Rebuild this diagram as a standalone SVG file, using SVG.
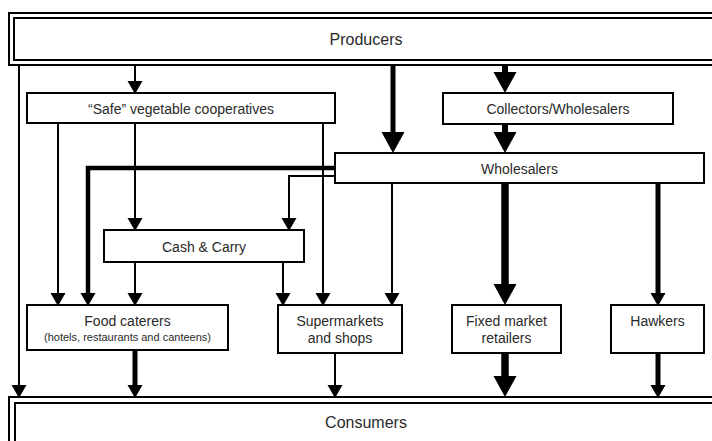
<svg xmlns="http://www.w3.org/2000/svg" width="712" height="441" viewBox="0 0 712 441">
<style>
  .box { fill: #fff; stroke: #000; stroke-width: 2; }
  .frame { fill: none; stroke: #000; stroke-width: 2; }
  .t { font-family: "Liberation Sans", Arial, sans-serif; font-size: 14px; fill: #2a2a2a; text-anchor: middle; }
  .big { font-size: 16px; }
  .small { font-size: 11px; }
  .c { fill: none; stroke: #000; stroke-linejoin: miter; }
  .w2 { stroke-width: 2; }
  .w4 { stroke-width: 4.5; }
  .w5 { stroke-width: 5; }
  .w6 { stroke-width: 6; }
  .w7 { stroke-width: 7.5; }
</style>
<defs>
  <marker id="hs" markerUnits="userSpaceOnUse" markerWidth="15" markerHeight="16" refX="0" refY="7.5" orient="auto" overflow="visible">
    <path d="M0,0 L13,7.5 L0,15 Z" fill="#000"/>
  </marker>
  <marker id="hl" markerUnits="userSpaceOnUse" markerWidth="22" markerHeight="24" refX="0" refY="11.5" orient="auto" overflow="visible">
    <path d="M0,0 L21,11.5 L0,23 Z" fill="#000"/>
  </marker>
</defs>

<g id="connectors">
  <path class="c w2" d="M19,65 V385" marker-end="url(#hs)"/>
  <path class="c w2" d="M135,65 V81" marker-end="url(#hs)"/>
  <path class="c w5" d="M393,65 V132" marker-end="url(#hl)"/>
  <path class="c w6" d="M505,65 V72" marker-end="url(#hl)"/>
  <path class="c w6" d="M505,124 V132" marker-end="url(#hl)"/>
  <path class="c w2" d="M58,123 V293" marker-end="url(#hs)"/>
  <path class="c w2" d="M135,123 V218" marker-end="url(#hs)"/>
  <path class="c w2" d="M323,123 V293" marker-end="url(#hs)"/>
  <path class="c w4" d="M336,168 H88 V293" marker-end="url(#hs)"/>
  <path class="c w2" d="M336,176 H289 V218" marker-end="url(#hs)"/>
  <path class="c w2" d="M135,262 V293" marker-end="url(#hs)"/>
  <path class="c w2" d="M283,262 V293" marker-end="url(#hs)"/>
  <path class="c w2" d="M392,183 V293" marker-end="url(#hs)"/>
  <path class="c w7" d="M505,183 V284" marker-end="url(#hl)"/>
  <path class="c w5" d="M658,183 V293" marker-end="url(#hs)"/>
  <path class="c w5" d="M135,350 V385" marker-end="url(#hs)"/>
  <path class="c w2" d="M335,353 V385" marker-end="url(#hs)"/>
  <path class="c w7" d="M505,353 V376" marker-end="url(#hl)"/>
  <path class="c w5" d="M658,353 V385" marker-end="url(#hs)"/>
</g>

<g id="producers">
  <rect class="box" x="9" y="13" width="720" height="52"/>
  <rect class="frame" x="14" y="18" width="720" height="42"/>
  <text class="t big" x="366" y="45">Producers</text>
</g>

<g id="safe-cooperatives">
  <rect class="box" x="27" y="93" width="308" height="30"/>
  <text class="t" x="181" y="114">“Safe” vegetable cooperatives</text>
</g>

<g id="collectors">
  <rect class="box" x="443" y="93" width="230" height="31"/>
  <text class="t" x="558" y="114">Collectors/Wholesalers</text>
</g>

<g id="wholesalers">
  <rect class="box" x="335" y="153" width="369" height="30"/>
  <text class="t" x="519.5" y="174">Wholesalers</text>
</g>

<g id="cash-carry">
  <rect class="box" x="104" y="230" width="200" height="32"/>
  <text class="t" x="204" y="252">Cash &amp; Carry</text>
</g>

<g id="food-caterers">
  <rect class="box" x="27" y="305" width="201" height="45"/>
  <text class="t" x="127.5" y="326">Food caterers</text>
  <text class="t small" x="127.5" y="341">(hotels, restaurants and canteens)</text>
</g>

<g id="supermarkets">
  <rect class="box" x="278" y="305" width="124" height="48"/>
  <text class="t" x="340" y="326">Supermarkets</text>
  <text class="t" x="340" y="343">and shops</text>
</g>

<g id="fixed-market">
  <rect class="box" x="452" y="305" width="109" height="48"/>
  <text class="t" x="506.5" y="326">Fixed market</text>
  <text class="t" x="506.5" y="343">retailers</text>
</g>

<g id="hawkers">
  <rect class="box" x="611" y="305" width="93" height="48"/>
  <text class="t" x="657.5" y="326">Hawkers</text>
</g>

<g id="consumers">
  <rect class="box" x="9" y="397" width="720" height="60"/>
  <rect class="frame" x="15" y="403" width="720" height="60"/>
  <text class="t big" x="366" y="428">Consumers</text>
</g>
</svg>
